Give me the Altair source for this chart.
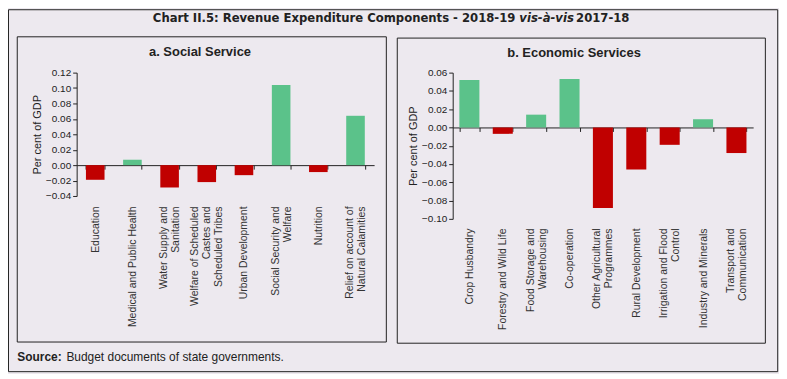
import altair as alt
import pandas as pd

# ---- data ----
social_cats = [
    "Education",
    "Medical and Public Health",
    "Water Supply and|Sanitation",
    "Welfare of Scheduled|Castes and|Scheduled Tribes",
    "Urban Development",
    "Social Security and|Welfare",
    "Nutrition",
    "Relief on account of|Natural  Calamities",
]
social_vals = [-0.019, 0.007, -0.029, -0.022, -0.013, 0.104, -0.009, 0.064]
social_ticks = [-0.04, -0.02, 0.00, 0.02, 0.04, 0.06, 0.08, 0.10, 0.12]

econ_cats = [
    "Crop Husbandry",
    "Forestry and Wild Life",
    "Food Storage and|Warehousing",
    "Co-operation",
    "Other Agricultural|Programmes",
    "Rural Development",
    "Irrigation and Flood|Control",
    "Industry and Minerals",
    "Transport and|Communication",
]
econ_vals = [0.052, -0.007, 0.014, 0.053, -0.088, -0.046, -0.019, 0.009, -0.028]
econ_ticks = [-0.10, -0.08, -0.06, -0.04, -0.02, 0.00, 0.02, 0.04, 0.06]

title_a = "Chart II.5: Revenue Expenditure Components - 2018-19"
title_b = "vis-à-vis"
title_c = "2017-18"
panel_titles = ["a. Social Service", "b. Economic Services"]
source_bold = "Source:"
source_text = "Budget documents of state governments."

GREEN = "#5BC28A"
RED = "#C00000"
BG = "#EDE9EF"
INK = "#222222"
FONT = "Liberation Sans, Arial, Helvetica, sans-serif"
NARROW = "DejaVu Sans Condensed, Liberation Sans Narrow, sans-serif"
LINE_H = 12

dummy = pd.DataFrame({"d": [0]})


def panel(cats, vals, ticks, width, height, pad_inner, label_pad):
    df = pd.DataFrame({"cat": cats, "val": vals})
    lo, hi = min(ticks), max(ticks)
    zero_off = (0 - lo) / (hi - lo) * height
    nlines = "length(split(datum.label, '|'))"
    bars = alt.Chart(df).mark_bar().encode(
        x=alt.X(
            "cat:N",
            sort=None,
            scale=alt.Scale(paddingInner=pad_inner, paddingOuter=pad_inner / 2),
            axis=alt.Axis(
                title=None,
                labelAngle=-90,
                labelAlign="right",
                labelBaseline="middle",
                labelExpr="split(datum.label, '|')",
                labelLineHeight=LINE_H,
                labelFont=FONT,
                labelFontSize=10.5,
                labelColor="#333333",
                labelLimit=300,
                labelOffset={
                    "condition": [
                        {"test": f"{nlines} == 3", "value": -LINE_H},
                        {"test": f"{nlines} == 2", "value": -LINE_H / 2},
                    ],
                    "value": 0,
                },
                tickBand="extent",
                tickSize=4,
                tickColor=INK,
                domainColor=INK,
                offset=-zero_off,
                labelPadding=label_pad,
            ),
        ),
        y=alt.Y(
            "val:Q",
            stack=None,
            scale=alt.Scale(domain=[lo, hi], nice=False, zero=False),
            axis=alt.Axis(
                values=ticks,
                format=".2f",
                title="Per cent of GDP",
                titleFont=FONT,
                titleFontSize=11,
                titleFontWeight="normal",
                titleColor=INK,
                titlePadding=3,
                labelFont=FONT,
                labelFontSize=10,
                labelColor=INK,
                labelPadding=2,
                tickSize=4,
                tickColor=INK,
                domainColor=INK,
                grid=False,
            ),
        ),
        y2=alt.datum(0),
        color=alt.condition(alt.datum.val > 0, alt.value(GREEN), alt.value(RED)),
    )
    return bars


left_bars = panel(social_cats, social_vals, social_ticks, 299, 124, 0.5, 37)
right_bars = panel(econ_cats, econ_vals, econ_ticks, 302, 147, 0.4, 97)


def box(x1, x2, y1, y2):
    return alt.Chart(dummy).mark_rect(filled=False, stroke=INK, strokeWidth=1).encode(
        x=alt.value(x1), x2=alt.value(x2), y=alt.value(y1), y2=alt.value(y2)
    )


def label(text, x, y, size, weight="normal", align="center", font=FONT, style="normal"):
    return alt.Chart(dummy).mark_text(
        text=text, fontSize=size, fontWeight=weight, align=align, baseline="middle",
        font=font, fontStyle=style, color=INK,
    ).encode(x=alt.value(x), y=alt.value(y))


left = alt.layer(
    box(-68.5, 704.7, -63.2, 300.6),
    box(-59.7, 311.3, -36.0, 270.8),
    label(panel_titles[0], 124, -20.5, 13, "bold"),
    label(title_a, 441, -54.7, 13, "bold", "right", NARROW),
    label(title_b, 445, -54.7, 13, "bold", "left", NARROW, "italic"),
    label(title_c, 502, -54.7, 13, "bold", "left", NARROW),
    label(source_bold, -59.7, 286.3, 12, "bold", "left"),
    label(source_text, -10.3, 286.3, 12, "normal", "left"),
    left_bars,
).properties(width=299, height=124)

right = alt.layer(
    box(-55.7, 314.3, -34.7, 272.0),
    label(panel_titles[1], 122, -19.5, 13, "bold"),
    right_bars,
).properties(width=302, height=147)

chart = alt.hconcat(left, right, spacing=79, bounds="flush").properties(
    background=BG, padding=0
).configure_view(stroke=None)

chart.save("out.html", embed_options={"renderer": "svg", "actions": False})
